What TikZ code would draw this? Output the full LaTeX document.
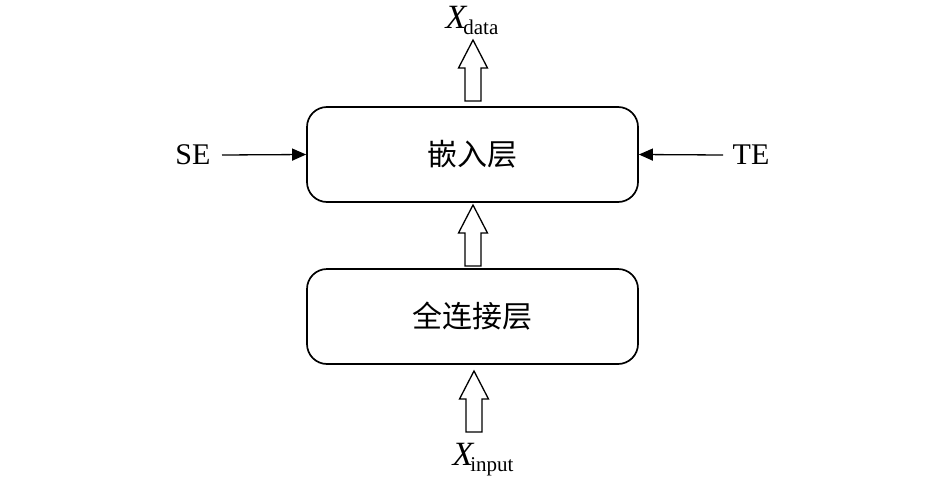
\documentclass[tikz,border=0pt]{standalone}
\usepackage{fontspec}
\setmainfont{Liberation Serif}
\newfontfamily\cjk{Noto Sans CJK SC}
\usetikzlibrary{arrows.meta}
\newcommand{\bigX}[1]{{\fontsize{34}{38}\selectfont\itshape X}\kern-3pt\raisebox{-6pt}{\fontsize{21}{24}\selectfont #1}}
\begin{document}
\begin{tikzpicture}[x=1pt,y=-1pt,
  layer/.style={draw, line width=1.7pt, rounded corners=20pt, minimum width=331pt, minimum height=95pt, font=\cjk\fontsize{30}{34}\selectfont},
  lbl/.style={font=\fontsize{30}{34}\selectfont, inner sep=0pt},
  feed/.style={draw, line width=1.3pt, -{Triangle[length=14pt,width=12pt]}},
  hollowup/.pic={\draw[line width=1.3pt, line join=miter] (-8,0) -- (-8,-33) -- (-14.5,-33) -- (0,-61) -- (14.5,-33) -- (8,-33) -- (8,0) -- cycle;}
]
\useasboundingbox (0,0) rectangle (945,482);
\node[layer] (emb) at (472.5,154.5) {嵌入层};
\node[layer] (fc) at (472.5,316.5) {全连接层};
\node[lbl] (xd) at (472,20) {\bigX{data}};
\node[lbl] (xi) at (483,460) {\bigX{input}};
\node[lbl] (se) at (193,155) {SE};
\node[lbl] (te) at (751,155) {TE};
\coordinate (seS) at (222,155);
\coordinate (teS) at (723,155);
\draw[feed] (seS) -- (emb.west);
\draw[feed] (teS) -- (emb.east);
\pic at (473,101) {hollowup};
\pic at (473,266) {hollowup};
\pic at (474,432) {hollowup};
\end{tikzpicture}
\end{document}
